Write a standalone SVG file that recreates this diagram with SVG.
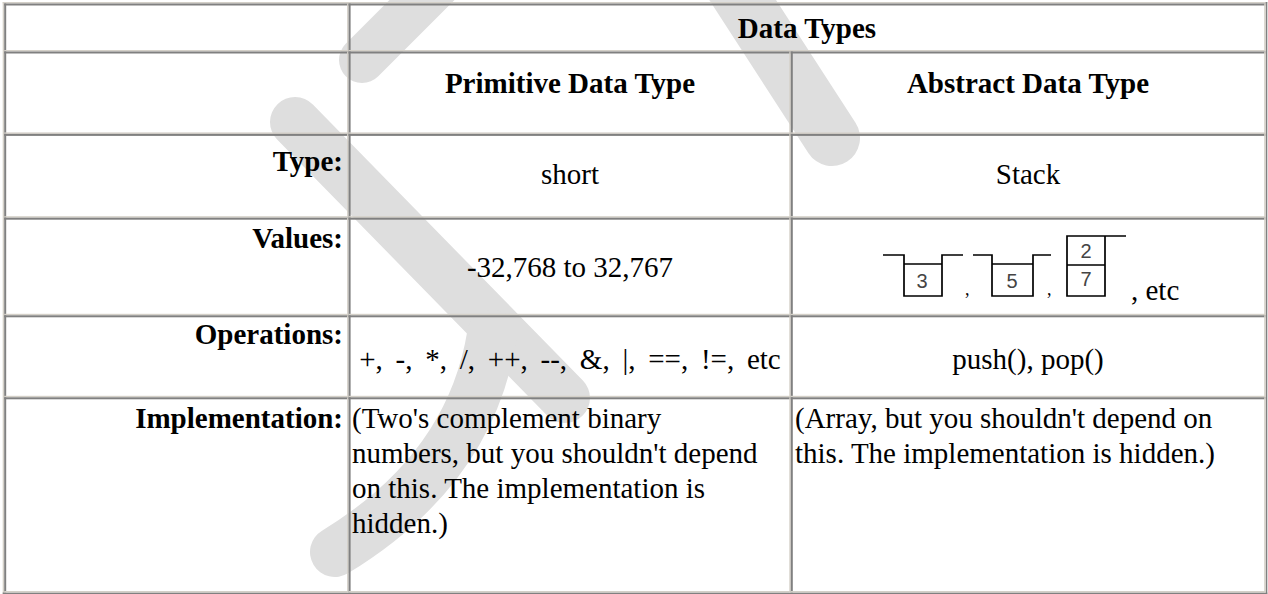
<svg xmlns="http://www.w3.org/2000/svg" width="1268" height="594" viewBox="0 0 1268 594">
<style>
.wm{fill:none;stroke:#dedede;stroke-linecap:round}
.dk{fill:#808080}
.lt{fill:#d4d0c8}
.hd{font-family:"Liberation Serif","Times New Roman",serif;font-size:29px;font-weight:bold;fill:#000}
.tx{font-family:"Liberation Serif","Times New Roman",serif;font-size:29px;fill:#000}
.dg{font-family:"Liberation Sans",Arial,sans-serif;font-size:20px;fill:#444;text-anchor:middle}
.stk{fill:none;stroke:#000;stroke-width:1.7}
</style>
<rect x="0" y="0" width="1268" height="594" fill="#fff"/>
<g id="watermark">
<path class="wm" d="M362,60 L455,-33" stroke-width="46"/>
<path class="wm" d="M295,122 L565,398" stroke-width="50"/>
<path class="wm" d="M335,552 Q470,470 492,335" stroke-width="50"/>
<path class="wm" d="M720,-35 L832,138" stroke-width="56"/>
</g>
<g id="table-frame">
<rect class="lt" x="2.7" y="2" width="1264.6" height="1.5"/>
<rect class="lt" x="2.7" y="2" width="1.5" height="592"/>
<rect class="dk" x="1265.7" y="2" width="1.6" height="592"/>
<rect class="dk" x="2.7" y="592.5" width="1264.6" height="1.5"/>
</g>
<g id="cell-r1c1"><rect class="dk" x="4.2" y="3.5" width="344.4" height="2"/><rect class="dk" x="4.2" y="3.5" width="2" height="48"/><rect class="lt" x="4.2" y="50" width="344.4" height="1.5"/><rect class="lt" x="347.1" y="3.5" width="1.5" height="48"/></g>
<g id="cell-r1c2"><rect class="dk" x="348.6" y="3.5" width="917.1" height="2"/><rect class="dk" x="348.6" y="3.5" width="2" height="48"/><rect class="lt" x="348.6" y="50" width="917.1" height="1.5"/><rect class="lt" x="1264.2" y="3.5" width="1.5" height="48"/>
<text class="hd" x="807" y="38" text-anchor="middle">Data Types</text></g>
<g id="cell-r2c1"><rect class="dk" x="4.2" y="51.5" width="344.4" height="2"/><rect class="dk" x="4.2" y="51.5" width="2" height="82.4"/><rect class="lt" x="4.2" y="132.4" width="344.4" height="1.5"/><rect class="lt" x="347.1" y="51.5" width="1.5" height="82.4"/></g>
<g id="cell-r2c2"><rect class="dk" x="348.6" y="51.5" width="442.2" height="2"/><rect class="dk" x="348.6" y="51.5" width="2" height="82.4"/><rect class="lt" x="348.6" y="132.4" width="442.2" height="1.5"/><rect class="lt" x="789.3" y="51.5" width="1.5" height="82.4"/>
<text class="hd" x="570" y="93" text-anchor="middle">Primitive Data Type</text></g>
<g id="cell-r2c3"><rect class="dk" x="790.8" y="51.5" width="474.9" height="2"/><rect class="dk" x="790.8" y="51.5" width="2" height="82.4"/><rect class="lt" x="790.8" y="132.4" width="474.9" height="1.5"/><rect class="lt" x="1264.2" y="51.5" width="1.5" height="82.4"/>
<text class="hd" x="1028" y="93" text-anchor="middle">Abstract Data Type</text></g>
<g id="cell-r3c1"><rect class="dk" x="4.2" y="133.9" width="344.4" height="2"/><rect class="dk" x="4.2" y="133.9" width="2" height="83.8"/><rect class="lt" x="4.2" y="216.2" width="344.4" height="1.5"/><rect class="lt" x="347.1" y="133.9" width="1.5" height="83.8"/>
<text class="hd" x="343" y="171" text-anchor="end">Type:</text></g>
<g id="cell-r3c2"><rect class="dk" x="348.6" y="133.9" width="442.2" height="2"/><rect class="dk" x="348.6" y="133.9" width="2" height="83.8"/><rect class="lt" x="348.6" y="216.2" width="442.2" height="1.5"/><rect class="lt" x="789.3" y="133.9" width="1.5" height="83.8"/>
<text class="tx" x="570" y="184" text-anchor="middle">short</text></g>
<g id="cell-r3c3"><rect class="dk" x="790.8" y="133.9" width="474.9" height="2"/><rect class="dk" x="790.8" y="133.9" width="2" height="83.8"/><rect class="lt" x="790.8" y="216.2" width="474.9" height="1.5"/><rect class="lt" x="1264.2" y="133.9" width="1.5" height="83.8"/>
<text class="tx" x="1028" y="184" text-anchor="middle">Stack</text></g>
<g id="cell-r4c1"><rect class="dk" x="4.2" y="217.7" width="344.4" height="2"/><rect class="dk" x="4.2" y="217.7" width="2" height="97.6"/><rect class="lt" x="4.2" y="313.8" width="344.4" height="1.5"/><rect class="lt" x="347.1" y="217.7" width="1.5" height="97.6"/>
<text class="hd" x="343" y="248" text-anchor="end">Values:</text></g>
<g id="cell-r4c2"><rect class="dk" x="348.6" y="217.7" width="442.2" height="2"/><rect class="dk" x="348.6" y="217.7" width="2" height="97.6"/><rect class="lt" x="348.6" y="313.8" width="442.2" height="1.5"/><rect class="lt" x="789.3" y="217.7" width="1.5" height="97.6"/>
<text class="tx" x="570" y="277" text-anchor="middle">-32,768 to 32,767</text></g>
<g id="cell-r4c3"><rect class="dk" x="790.8" y="217.7" width="474.9" height="2"/><rect class="dk" x="790.8" y="217.7" width="2" height="97.6"/><rect class="lt" x="790.8" y="313.8" width="474.9" height="1.5"/><rect class="lt" x="1264.2" y="217.7" width="1.5" height="97.6"/>
<path class="stk" d="M883,255 H904 V296 H942 V255 H963 M904,264 H942"/>
<text class="dg" x="922" y="288">3</text>
<text class="tx" x="965" y="295" style="font-size:18px">,</text>
<path class="stk" d="M973,255 H992 V296 H1033 V255 H1051 M992,264 H1033"/>
<text class="dg" x="1012" y="288">5</text>
<text class="tx" x="1047" y="295" style="font-size:18px">,</text>
<path class="stk" d="M1067,236 V296 H1105 V236 Z M1067,265 H1105 M1105,236 H1126"/>
<text class="dg" x="1086" y="258">2</text>
<text class="dg" x="1086" y="286">7</text>
<text class="tx" x="1131" y="300">, etc</text></g>
<g id="cell-r5c1"><rect class="dk" x="4.2" y="315.3" width="344.4" height="2"/><rect class="dk" x="4.2" y="315.3" width="2" height="82"/><rect class="lt" x="4.2" y="395.8" width="344.4" height="1.5"/><rect class="lt" x="347.1" y="315.3" width="1.5" height="82"/>
<text class="hd" x="343" y="344" text-anchor="end">Operations:</text></g>
<g id="cell-r5c2"><rect class="dk" x="348.6" y="315.3" width="442.2" height="2"/><rect class="dk" x="348.6" y="315.3" width="2" height="82"/><rect class="lt" x="348.6" y="395.8" width="442.2" height="1.5"/><rect class="lt" x="789.3" y="315.3" width="1.5" height="82"/>
<text class="tx" x="570" y="369" text-anchor="middle" style="word-spacing:5.5px">+, -, *, /, ++, --, &amp;, |, ==, !=, etc</text></g>
<g id="cell-r5c3"><rect class="dk" x="790.8" y="315.3" width="474.9" height="2"/><rect class="dk" x="790.8" y="315.3" width="2" height="82"/><rect class="lt" x="790.8" y="395.8" width="474.9" height="1.5"/><rect class="lt" x="1264.2" y="315.3" width="1.5" height="82"/>
<text class="tx" x="1028" y="369" text-anchor="middle">push(), pop()</text></g>
<g id="cell-r6c1"><rect class="dk" x="4.2" y="397.3" width="344.4" height="2"/><rect class="dk" x="4.2" y="397.3" width="2" height="195.2"/><rect class="lt" x="4.2" y="591" width="344.4" height="1.5"/><rect class="lt" x="347.1" y="397.3" width="1.5" height="195.2"/>
<text class="hd" x="343" y="428" text-anchor="end">Implementation:</text></g>
<g id="cell-r6c2"><rect class="dk" x="348.6" y="397.3" width="442.2" height="2"/><rect class="dk" x="348.6" y="397.3" width="2" height="195.2"/><rect class="lt" x="348.6" y="591" width="442.2" height="1.5"/><rect class="lt" x="789.3" y="397.3" width="1.5" height="195.2"/>
<text class="tx" x="352" y="428">(Two's complement binary</text>
<text class="tx" x="352" y="463">numbers, but you shouldn't depend</text>
<text class="tx" x="352" y="498">on this. The implementation is</text>
<text class="tx" x="352" y="533">hidden.)</text></g>
<g id="cell-r6c3"><rect class="dk" x="790.8" y="397.3" width="474.9" height="2"/><rect class="dk" x="790.8" y="397.3" width="2" height="195.2"/><rect class="lt" x="790.8" y="591" width="474.9" height="1.5"/><rect class="lt" x="1264.2" y="397.3" width="1.5" height="195.2"/>
<text class="tx" x="795" y="428">(Array, but you shouldn't depend on</text>
<text class="tx" x="795" y="463">this. The implementation is hidden.)</text></g>
</svg>
